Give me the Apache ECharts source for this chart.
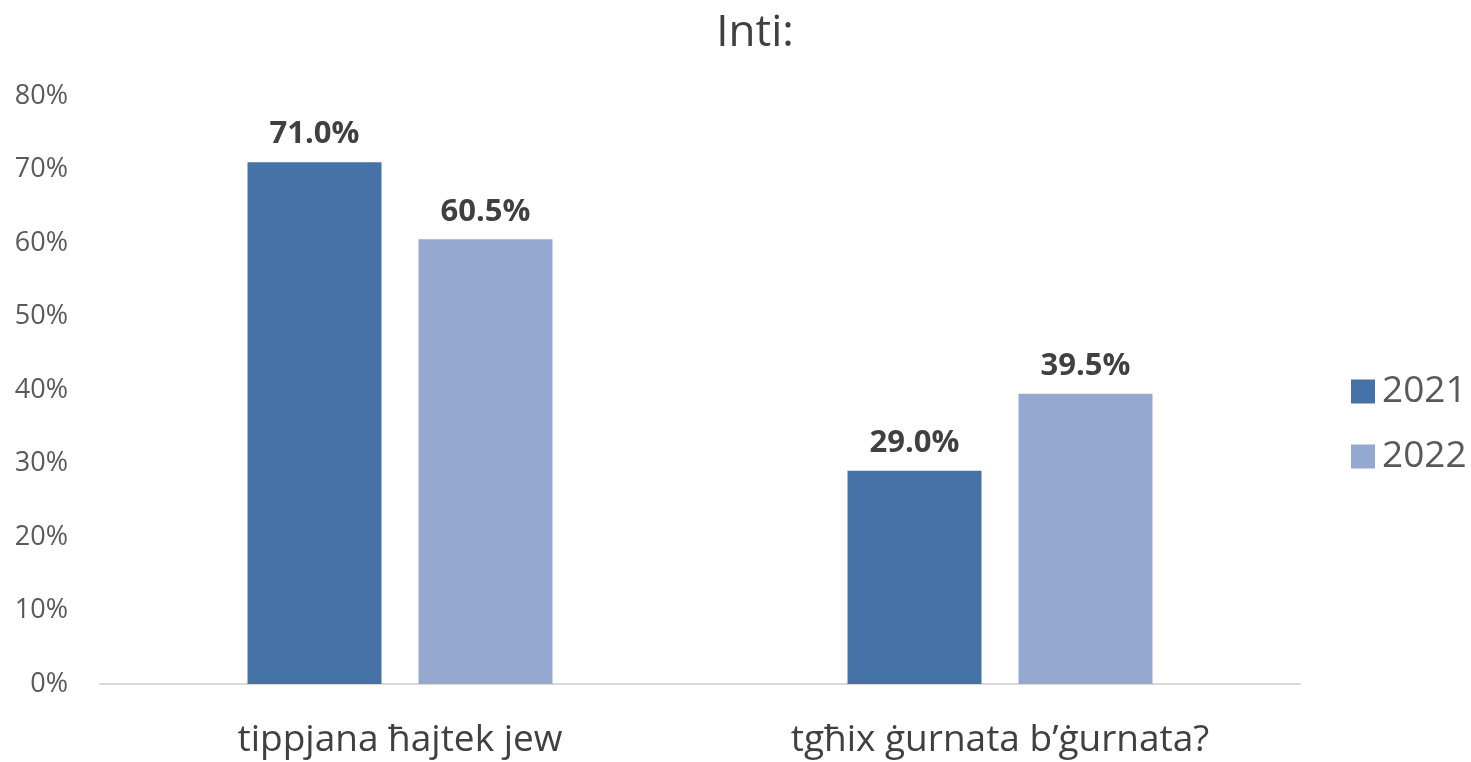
<!DOCTYPE html>
<html>
<head>
<meta charset="utf-8">
<script src="https://cdn.jsdelivr.net/npm/echarts@6/dist/echarts.min.js"></script>
<style>
  html, body { margin: 0; padding: 0; background: #fff; }
  #chart { width: 1471px; height: 762px; }
</style>
</head>
<body>
<div id="chart"></div>
<script>
const categories = ["tippjana ħajtek jew", "tgħix ġurnata b’ġurnata?"];
const years = ["2021", "2022"];
const values2021 = [0.71, 0.29];
const values2022 = [0.605, 0.395];
const colors = ["#4572A7", "#95A9D0"];

const font = "'Open Sans', 'Noto Sans', sans-serif";

const chart = echarts.init(document.getElementById("chart"));

function barSeries(name, data, color) {
  return {
    name: name,
    type: "bar",
    data: data,
    barWidth: 134,
    barGap: "27.6%",
    itemStyle: { color: color },
    label: {
      show: true,
      position: "top",
      distance: 12,
      color: "#404040",
      fontFamily: font,
      fontWeight: "bold",
      fontSize: 31,
      formatter: p => (p.value * 100).toFixed(1) + "%"
    }
  };
}

chart.setOption({
  animation: false,
  textStyle: { fontFamily: font },
  title: {
    text: "Inti:",
    left: 750,
    textAlign: "center",
    top: 6,
    textStyle: { color: "#404040", fontSize: 44, fontWeight: "normal", fontFamily: font }
  },
  legend: {
    orient: "vertical",
    left: 1346,
    top: 368,
    itemWidth: 24,
    itemHeight: 24,
    itemGap: 28,
    icon: "rect",
    textStyle: { color: "#595959", fontSize: 37, fontFamily: font, padding: [0, 0, 0, 2] },
    data: years
  },
  grid: { left: 100, right: 171, top: 96, bottom: 78 },
  xAxis: {
    type: "category",
    data: categories,
    axisLine: { lineStyle: { color: "#d9d9d9", width: 2 } },
    axisTick: { show: false },
    axisLabel: { color: "#404040", fontSize: 37, margin: 38, fontFamily: font }
  },
  yAxis: {
    type: "value",
    min: 0,
    max: 0.8,
    interval: 0.1,
    splitLine: { show: false },
    axisLine: { show: false },
    axisTick: { show: false },
    axisLabel: {
      color: "#595959",
      fontSize: 27,
      margin: 32,
      fontFamily: font,
      formatter: v => Math.round(v * 100) + "%"
    }
  },
  series: [
    barSeries(years[0], values2021, colors[0]),
    barSeries(years[1], values2022, colors[1])
  ]
});
</script>
</body>
</html>
